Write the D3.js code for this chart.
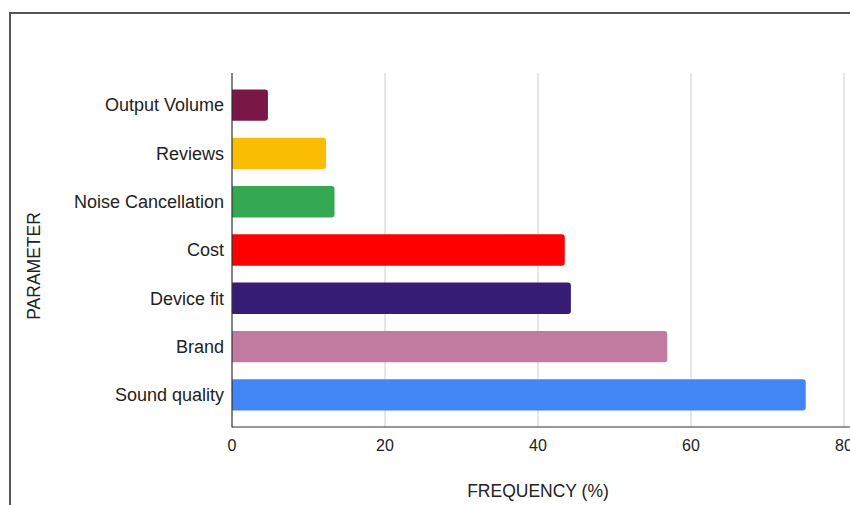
<!DOCTYPE html>
<html>
<head>
<meta charset="utf-8">
<script src="https://cdn.jsdelivr.net/npm/d3@7"></script>
<style>
  html, body { margin: 0; padding: 0; background: #fff; }
  svg { display: block; font-family: "Liberation Sans", Arial, sans-serif; }
</style>
</head>
<body>
<svg id="chart" width="850" height="505"></svg>
<script>
// Survey results: parameters considered when buying earphones
const categories = ["Output Volume", "Reviews", "Noise Cancellation", "Cost", "Device fit", "Brand", "Sound quality"];
const frequency = [4.7, 12.3, 13.4, 43.5, 44.3, 56.9, 75.0];
const barColors = ["#7a1746", "#fbbc04", "#34a853", "#ff0000", "#351c75", "#c27ba0", "#4285f4"];
const xTicks = [0, 20, 40, 60, 80];
const xTitle = "FREQUENCY (%)";
const yTitle = "PARAMETER";

const svg = d3.select("#chart");
const W = 850, H = 505;
const plot = { left: 232, right: 844, top: 73, bottom: 427 };

// outer frame (top and left edges visible)
svg.append("line").attr("x1", 9).attr("x2", W).attr("y1", 13).attr("y2", 13)
  .attr("stroke", "#555").attr("stroke-width", 2);
svg.append("line").attr("x1", 10).attr("x2", 10).attr("y1", 12).attr("y2", H)
  .attr("stroke", "#555").attr("stroke-width", 2);

const x = d3.scaleLinear().domain([0, 80]).range([plot.left, plot.right]);
const y = d3.scaleBand().domain(categories).range([plot.top, plot.bottom])
  .paddingInner(0.35).paddingOuter(0.34);

// vertical gridlines
svg.append("g").selectAll("line").data(xTicks.filter(d => d > 0)).join("line")
  .attr("x1", d => x(d)).attr("x2", d => x(d))
  .attr("y1", plot.top).attr("y2", plot.bottom)
  .attr("stroke", "#cccccc").attr("stroke-width", 1);

// bars with rounded right end
const r = 3;
svg.append("g").selectAll("path").data(categories).join("path")
  .attr("fill", (d, i) => barColors[i])
  .attr("d", (d, i) => {
    const x0 = x(0), x1 = x(frequency[i]), y0 = y(d), h = y.bandwidth();
    return `M${x0},${y0} H${x1 - r} Q${x1},${y0} ${x1},${y0 + r} V${y0 + h - r} Q${x1},${y0 + h} ${x1 - r},${y0 + h} H${x0} Z`;
  });

// axis lines
svg.append("line").attr("x1", plot.left).attr("x2", plot.left)
  .attr("y1", plot.top).attr("y2", plot.bottom + 0.5)
  .attr("stroke", "#333").attr("stroke-width", 1.2);
svg.append("line").attr("x1", plot.left).attr("x2", W)
  .attr("y1", plot.bottom).attr("y2", plot.bottom)
  .attr("stroke", "#333").attr("stroke-width", 1.2);

// x tick labels
svg.append("g").selectAll("text").data(xTicks).join("text")
  .attr("x", d => x(d)).attr("y", 451)
  .attr("text-anchor", "middle")
  .attr("font-size", 16).attr("fill", "#222")
  .text(d => d);

// category labels
svg.append("g").selectAll("text").data(categories).join("text")
  .attr("x", 224).attr("y", d => y(d) + y.bandwidth() / 2)
  .attr("dy", "0.35em")
  .attr("text-anchor", "end")
  .attr("font-size", 18).attr("fill", "#222")
  .text(d => d);

// axis titles
svg.append("text").attr("x", (plot.left + plot.right) / 2).attr("y", 497)
  .attr("text-anchor", "middle").attr("font-size", 17.5).attr("fill", "#222")
  .text(xTitle);
svg.append("text")
  .attr("transform", "translate(40,266) rotate(-90)")
  .attr("text-anchor", "middle").attr("font-size", 17.5).attr("fill", "#222")
  .text(yTitle);
</script>
</body>
</html>
